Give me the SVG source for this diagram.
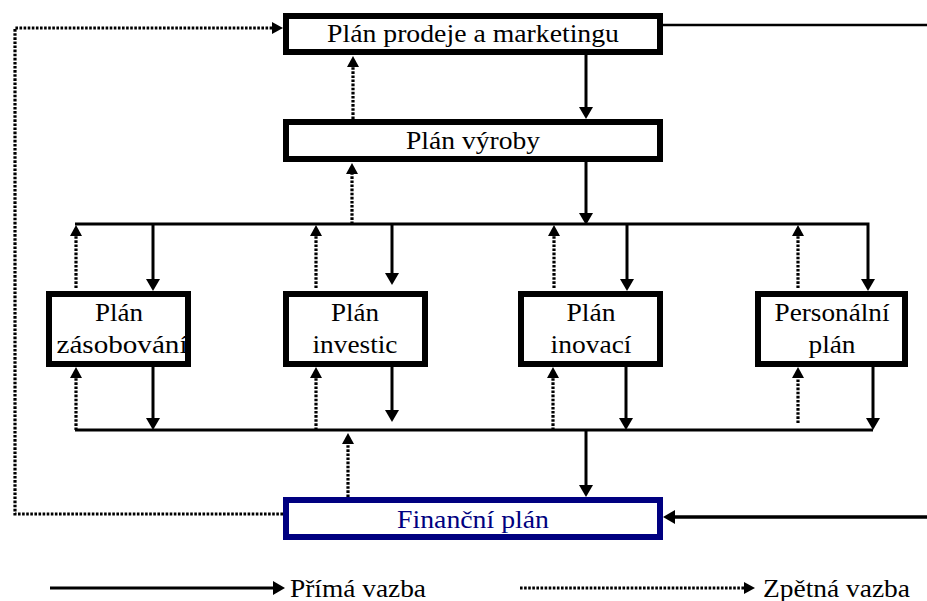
<svg xmlns="http://www.w3.org/2000/svg" width="927" height="601" viewBox="0 0 927 601">
<style>
.box{fill:#fff;stroke:#000;stroke-width:6}
.fin{fill:#fff;stroke:#000080;stroke-width:6}
.s{fill:none;stroke:#000;stroke-width:3}
.d{fill:none;stroke:#000;stroke-width:3.2;stroke-dasharray:2.6 1.5}
</style>
<defs>
<marker id="a" markerUnits="userSpaceOnUse" markerWidth="12" markerHeight="14" refX="6" refY="7" orient="auto" overflow="visible"><path d="M0,0 L12,7 L0,14 z" fill="#000"/></marker>
<marker id="da" markerUnits="userSpaceOnUse" markerWidth="11" markerHeight="12" refX="5" refY="6" orient="auto" overflow="visible"><path d="M0,0 L11,6 L0,12 z" fill="#000"/></marker>
</defs>
<rect width="927" height="601" fill="#fff"/>
<g id="connectors">
<path class="s" d="M586,55 V113" marker-end="url(#a)"/>
<path class="s" d="M586,162 V219" marker-end="url(#a)"/>
<path class="s" d="M75,224 H868 V285" marker-end="url(#a)"/>
<path class="s" d="M153,224 V285" marker-end="url(#a)"/>
<path class="s" d="M392,224 V279" marker-end="url(#a)"/>
<path class="s" d="M627,224 V285" marker-end="url(#a)"/>
<path class="s" d="M153,367 V424" marker-end="url(#a)"/>
<path class="s" d="M392,367 V416" marker-end="url(#a)"/>
<path class="s" d="M626,367 V424" marker-end="url(#a)"/>
<path class="s" d="M873,367 V424" marker-end="url(#a)"/>
<path class="s" d="M75,430 H873"/>
<path class="s" d="M586,430 V491" marker-end="url(#a)"/>
<path class="s" d="M663,25 H927" style="stroke-width:2.5"/>
<path class="s" d="M927,517 H669" style="stroke-width:3.5" marker-end="url(#a)"/>
<path class="d" d="M353,119 V62" marker-end="url(#da)"/>
<path class="d" d="M352,224 V169" marker-end="url(#da)"/>
<path class="d" d="M76,288 V231" marker-end="url(#da)"/>
<path class="d" d="M76,430 V373" marker-end="url(#da)"/>
<path class="d" d="M316,288 V231" marker-end="url(#da)"/>
<path class="d" d="M316,430 V373" marker-end="url(#da)"/>
<path class="d" d="M554,288 V231" marker-end="url(#da)"/>
<path class="d" d="M553,430 V373" marker-end="url(#da)"/>
<path class="d" d="M798,288 V231" marker-end="url(#da)"/>
<path class="d" d="M798,423 V373" marker-end="url(#da)"/>
<path class="d" d="M348,497 V439" marker-end="url(#da)"/>
<path class="d" d="M283,514 H15 V28 H277" marker-end="url(#da)"/>
</g>
<g font-family="Liberation Serif, Times New Roman, serif" font-size="25" text-anchor="middle" fill="#000">
<g id="n-prodej"><rect class="box" x="286" y="16" width="374" height="36"/><text x="473" y="42" textLength="292" lengthAdjust="spacingAndGlyphs">Plán prodeje a marketingu</text></g>
<g id="n-vyroba"><rect class="box" x="286" y="122" width="374" height="37"/><text x="473" y="149" textLength="134" lengthAdjust="spacingAndGlyphs">Plán výroby</text></g>
<g id="n-zasob"><rect class="box" x="49" y="294" width="139" height="70"/><text x="119" y="321" textLength="48" lengthAdjust="spacingAndGlyphs">Plán</text><text x="122" y="353" textLength="131" lengthAdjust="spacingAndGlyphs">zásobování</text></g>
<g id="n-invest"><rect class="box" x="286" y="294" width="139" height="70"/><text x="355" y="321" textLength="48" lengthAdjust="spacingAndGlyphs">Plán</text><text x="355" y="353" textLength="85" lengthAdjust="spacingAndGlyphs">investic</text></g>
<g id="n-inov"><rect class="box" x="521" y="294" width="139" height="70"/><text x="591" y="321" textLength="49" lengthAdjust="spacingAndGlyphs">Plán</text><text x="591" y="353" textLength="81" lengthAdjust="spacingAndGlyphs">inovací</text></g>
<g id="n-person"><rect class="box" x="758" y="294" width="147" height="70"/><text x="832" y="321" textLength="115" lengthAdjust="spacingAndGlyphs">Personální</text><text x="832" y="353" textLength="47" lengthAdjust="spacingAndGlyphs">plán</text></g>
<g id="n-financni"><rect class="fin" x="286" y="500" width="374" height="37"/><text fill="#000080" x="473" y="528" textLength="152" lengthAdjust="spacingAndGlyphs">Finanční plán</text></g>
<g id="legend">
<path class="s" d="M50,588 H279" marker-end="url(#a)"/>
<text text-anchor="start" x="290" y="597" textLength="136" lengthAdjust="spacingAndGlyphs">Přímá vazba</text>
<path class="d" d="M520,588 H749" marker-end="url(#da)"/>
<text text-anchor="start" x="763" y="597" textLength="147" lengthAdjust="spacingAndGlyphs">Zpětná vazba</text>
</g>
</g>
</svg>
